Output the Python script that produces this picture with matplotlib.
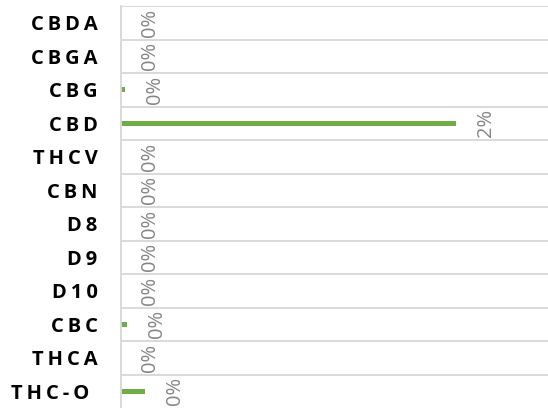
import matplotlib
matplotlib.use("Agg")
import matplotlib.pyplot as plt
import numpy as np

# data (fraction of total)
compounds = ['CBDA', 'CBGA', 'CBG', 'CBD', 'THCV', 'CBN', 'D8', 'D9', 'D10', 'CBC', 'THCA', 'THC-O']
values = [0.0, 0.0, 0.0002, 0.0157, 0.0, 0.0, 0.0, 0.0, 0.0, 0.0003, 0.0, 0.00114]

plt.rcParams['font.family'] = ['Open Sans', 'DejaVu Sans']

fig = plt.figure(figsize=(5.48, 4.08), dpi=100)
ax = fig.add_axes([121 / 548, 0, 1 - 121 / 548, 1 - 6 / 408])

y = np.arange(len(compounds))
bars = ax.barh(y, values, height=0.16, color='#70AD47')

ax.set_xlim(0, 0.02)
ax.set_ylim(11.5, -0.5)

# letter-spaced category labels
spaced = ['\u2009'.join(c) for c in compounds]
spaced[-1] = spaced[-1] + '\u2009\u2009'
ax.set_yticks(y)
ax.set_yticklabels(spaced, fontsize=14.5, fontweight='bold', color='black')
ax.tick_params(axis='y', length=0, pad=17)
ax.set_xticks([])

# gridlines between categories
ax.set_yticks(np.arange(len(compounds)) - 0.5, minor=True)
ax.tick_params(axis='y', which='minor', length=0)
ax.grid(True, which='minor', axis='y', color='#d9d9d9', linewidth=1.4)
ax.set_axisbelow(True)

for s in ['top', 'right', 'bottom']:
    ax.spines[s].set_visible(False)
ax.spines['left'].set_color('#d9d9d9')
ax.spines['left'].set_linewidth(1.4)

# rotated value labels
for bar, v in zip(bars, values):
    ax.annotate(f'{v:.0%}', (bar.get_width(), bar.get_y() + bar.get_height() / 2),
                xytext=(14, 0), textcoords='offset points',
                rotation=90, ha='left', va='center', fontsize=14.5, color='#858585',
                annotation_clip=False)

fig.savefig('out.png', dpi=100)
